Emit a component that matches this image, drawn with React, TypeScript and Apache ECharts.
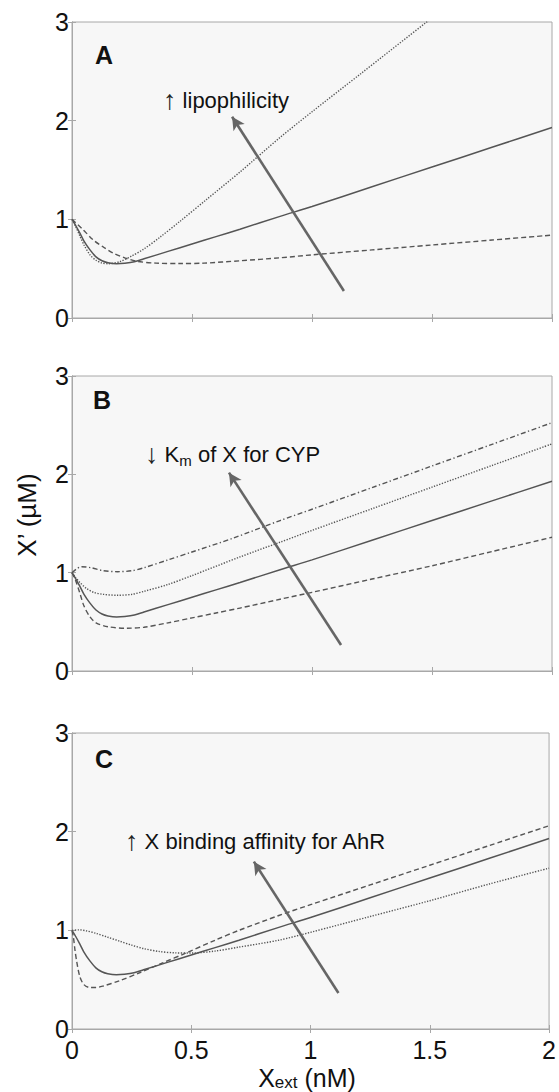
import React, { useEffect, useRef } from "react";
import * as echarts from "echarts";

// ---------- data ----------
const xTicks = [0, 0.5, 1, 1.5, 2];
const yTicks = [0, 1, 2, 3];
const panelLetters = ["A", "B", "C"];

// baseline (solid) curve, same in all panels
const baseX = [0, 0.015, 0.033, 0.05, 0.075, 0.1, 0.125, 0.15, 0.186, 0.22, 0.26, 0.3, 0.4, 0.5, 0.6, 0.7, 0.867, 1.0, 1.25, 1.5, 1.75, 2.0];
const baseY = [1.0, 0.94, 0.86, 0.78, 0.69, 0.62, 0.58, 0.56, 0.55, 0.555, 0.57, 0.6, 0.675, 0.75, 0.825, 0.9, 1.03, 1.13, 1.33, 1.53, 1.73, 1.93];

// Panel A
const aDotX = [0, 0.015, 0.033, 0.05, 0.075, 0.1, 0.125, 0.15, 0.2, 0.25, 0.3, 0.367, 0.45, 0.56, 0.7, 0.867, 1.0, 1.2, 1.478, 1.7, 2.0];
const aDotY = [1.0, 0.93, 0.83, 0.74, 0.64, 0.585, 0.557, 0.55, 0.572, 0.63, 0.7, 0.82, 0.98, 1.2, 1.48, 1.83, 2.09, 2.47, 3.0, 3.42, 3.97];
const aDashX = [0, 0.04, 0.089, 0.13, 0.17, 0.22, 0.27, 0.35, 0.45, 0.55, 0.7, 0.867, 1.0, 1.25, 1.5, 1.75, 2.0];
const aDashY = [1.0, 0.91, 0.79, 0.72, 0.66, 0.61, 0.575, 0.556, 0.552, 0.556, 0.58, 0.61, 0.64, 0.69, 0.74, 0.79, 0.84];

// Panel B
const bDashDotX = [0, 0.02, 0.04, 0.08, 0.13, 0.19, 0.25, 0.3, 0.4, 0.5, 0.67, 0.867, 1.0, 1.25, 1.5, 1.75, 2.0];
const bDashDotY = [1.0, 1.04, 1.06, 1.05, 1.02, 1.01, 1.02, 1.05, 1.13, 1.21, 1.35, 1.53, 1.645, 1.865, 2.085, 2.305, 2.525];
const bDotX = [0, 0.015, 0.033, 0.06, 0.09, 0.13, 0.19, 0.25, 0.3, 0.4, 0.5, 0.7, 0.867, 1.0, 1.25, 1.5, 1.75, 2.0];
const bDotY = [1.0, 0.95, 0.9, 0.84, 0.8, 0.78, 0.77, 0.78, 0.81, 0.88, 0.97, 1.16, 1.31, 1.43, 1.65, 1.87, 2.09, 2.31];
const bDashX = [0, 0.015, 0.033, 0.05, 0.075, 0.1, 0.15, 0.23, 0.3, 0.4, 0.5, 0.6, 0.7, 0.867, 1.0, 1.25, 1.5, 1.75, 2.0];
const bDashY = [1.0, 0.92, 0.79, 0.66, 0.55, 0.49, 0.45, 0.435, 0.445, 0.49, 0.54, 0.59, 0.64, 0.73, 0.8, 0.935, 1.07, 1.215, 1.36];

// Panel C
const cDotX = [0, 0.03, 0.06, 0.1, 0.15, 0.2, 0.25, 0.3, 0.367, 0.43, 0.5, 0.6, 0.7, 0.867, 1.0, 1.25, 1.5, 1.75, 2.0];
const cDotY = [1.0, 1.005, 0.995, 0.97, 0.93, 0.89, 0.85, 0.815, 0.785, 0.772, 0.77, 0.79, 0.83, 0.9, 0.98, 1.14, 1.3, 1.47, 1.63];
const cDashX = [0, 0.006, 0.0125, 0.02, 0.033, 0.05, 0.075, 0.1, 0.13, 0.2, 0.283, 0.38, 0.478, 0.6, 0.7, 0.867, 1.0, 1.25, 1.5, 1.75, 2.0];
const cDashY = [1.0, 0.93, 0.8, 0.68, 0.53, 0.45, 0.42, 0.42, 0.435, 0.49, 0.57, 0.67, 0.77, 0.9, 1.0, 1.15, 1.26, 1.46, 1.66, 1.86, 2.06];

// annotation arrows (data coords): tail -> head
const arrowTail = [[1.133, 0.274], [1.121, 0.264], [1.117, 0.365]];
const arrowHead = [[0.667, 2.04], [0.654, 2.017], [0.7625, 1.696]];

// ---------- styling ----------
const FONT = '"Liberation Sans", Arial, Helvetica, sans-serif';
const LINE = "#555";
const AXIS = "#a8a8a8";
const grids = [
  { left: 72, top: 22, width: 480, height: 296 },
  { left: 72, top: 376, width: 480, height: 295 },
  { left: 72, top: 733, width: 480, height: 296 },
];

const zip = (xs: number[], ys: number[]) => xs.map((x, i) => [x, ys[i]]);

const styles: Record<string, any> = {
  solid: { type: "solid", width: 1.5, color: "#555" },
  dash: { type: [5, 3], width: 1.4, color: LINE },
  dot: { type: [1.3, 1.5], width: 1.4, color: LINE },
  dashdot: { type: [5, 2.5, 1.3, 2.5], width: 1.4, color: LINE },
};

function lineSeries(p: number, xs: number[], ys: number[], st: string, arrow?: boolean) {
  const s: any = {
    type: "line",
    xAxisIndex: p * 2,
    yAxisIndex: p * 2,
    data: zip(xs, ys),
    showSymbol: false,
    smooth: 0.3,
    lineStyle: styles[st],
    silent: true,
    clip: true,
    z: 3,
  };
  if (arrow) {
    s.markLine = {
      silent: true,
      symbol: ["none", "arrow"],
      symbolSize: [10, 13],
      label: { show: false },
      lineStyle: { color: "#666", width: 2.6, type: "solid" },
      emphasis: { disabled: true },
      data: [[{ coord: arrowTail[p] }, { coord: arrowHead[p] }]],
      z: 5,
    };
  }
  return s;
}

export default function App() {
  const ref = useRef<HTMLDivElement>(null);
  useEffect(() => {
    if (!ref.current) return;
    const chart = echarts.init(ref.current, null, { renderer: "svg" });

    const xAxis: any[] = [];
    const yAxis: any[] = [];
    grids.forEach((_, i) => {
      const tick = { show: true, inside: true, length: 4, lineStyle: { color: AXIS, width: 1 } };
      xAxis.push({
        type: "value", gridIndex: i, min: xTicks[0], max: xTicks[xTicks.length - 1], interval: 0.5,
        position: "bottom",
        axisLine: { show: true, lineStyle: { color: AXIS, width: 1 } },
        axisTick: tick,
        splitLine: { show: false },
        axisLabel: {
          show: i === 2, margin: 8, fontSize: 25, fontFamily: FONT, color: "#111",
          formatter: (v: number) => String(v),
        },
      });
      xAxis.push({
        type: "value", gridIndex: i, min: xTicks[0], max: xTicks[xTicks.length - 1], interval: 0.5,
        position: "top",
        axisLine: { show: true, lineStyle: { color: AXIS, width: 1 } },
        axisTick: tick, splitLine: { show: false }, axisLabel: { show: false },
      });
      yAxis.push({
        type: "value", gridIndex: i, min: yTicks[0], max: yTicks[yTicks.length - 1], interval: 1,
        position: "left",
        axisLine: { show: true, lineStyle: { color: AXIS, width: 1 } },
        axisTick: tick, splitLine: { show: false },
        axisLabel: { show: true, margin: 3, fontSize: 25, fontFamily: FONT, color: "#111" },
      });
      yAxis.push({
        type: "value", gridIndex: i, min: yTicks[0], max: yTicks[yTicks.length - 1], interval: 1,
        position: "right",
        axisLine: { show: true, lineStyle: { color: AXIS, width: 1 } },
        axisTick: tick, splitLine: { show: false }, axisLabel: { show: false },
      });
    });

    const series = [
      lineSeries(0, aDotX, aDotY, "dot"),
      lineSeries(0, aDashX, aDashY, "dash"),
      lineSeries(0, baseX, baseY, "solid", true),
      lineSeries(1, bDashDotX, bDashDotY, "dashdot"),
      lineSeries(1, bDotX, bDotY, "dot"),
      lineSeries(1, bDashX, bDashY, "dash"),
      lineSeries(1, baseX, baseY, "solid", true),
      lineSeries(2, cDotX, cDotY, "dot"),
      lineSeries(2, cDashX, cDashY, "dash"),
      lineSeries(2, baseX, baseY, "solid", true),
    ];

    const letterPos = [[104, 55], [102, 400], [104, 759]];
    const txt = (x: number, y: number, style: any, extra: any = {}) => ({
      type: "text", x, y, z: 10, silent: true, style: { fontFamily: FONT, fill: "#111", ...style }, ...extra,
    });
    const t = { fontSize: 22, lineHeight: 28, fontFamily: FONT, fill: "#111" };
    const ar = { fontSize: 27, lineHeight: 28, fontFamily: FONT, fill: "#222" };

    const graphic: any[] = [
      ...panelLetters.map((l, i) =>
        txt(letterPos[i][0], letterPos[i][1], { text: l, fontSize: 25, fontWeight: "bold", align: "center", verticalAlign: "middle" })
      ),
      txt(163, 100, {
        text: "{ar|↑}{t| lipophilicity}",
        align: "left", verticalAlign: "middle",
        rich: { t, ar },
      }),
      txt(145, 454, {
        text: "{ar|↓}{t| K}{s|m}{t| of X for CYP}",
        align: "left", verticalAlign: "middle",
        rich: {
          t, ar,
          s: { fontSize: 15, lineHeight: 14, verticalAlign: "bottom", fontFamily: FONT, fill: "#111" },
        },
      }),
      txt(125, 841, {
        text: "{ar|↑}{t| X binding affinity for AhR}",
        align: "left", verticalAlign: "middle",
        rich: { t, ar },
      }),
      txt(27, 515, { text: "X’ (µM)", fontSize: 26, align: "center", verticalAlign: "middle" }, { rotation: Math.PI / 2 }),
      txt(307, 1091, {
        text: "{a|X}{b|ext}{a| (nM)}",
        align: "center", verticalAlign: "bottom",
        rich: {
          a: { fontSize: 25, lineHeight: 26, fontFamily: FONT, fill: "#111" },
          b: { fontSize: 17, lineHeight: 17, verticalAlign: "bottom", fontFamily: FONT, fill: "#111" },
        },
      }),
    ];

    chart.setOption({
      animation: false,
      backgroundColor: "#fff",
      grid: grids.map((g) => ({ ...g, show: true, backgroundColor: "#f7f7f7", borderColor: AXIS, borderWidth: 1 })),
      xAxis,
      yAxis,
      series,
      graphic,
    });
    return () => chart.dispose();
  }, []);

  return (
    <div
      ref={ref}
      style={{ position: "fixed", left: 0, top: 0, width: 559, height: 1092, background: "#fff" }}
    />
  );
}
